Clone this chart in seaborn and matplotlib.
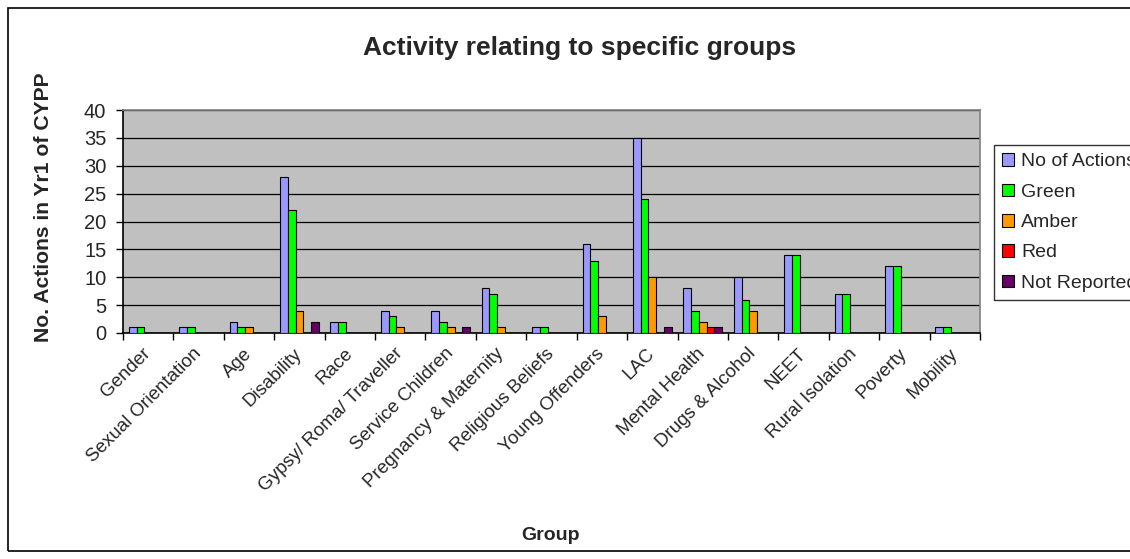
import matplotlib
matplotlib.use("Agg")
import matplotlib.pyplot as plt
import matplotlib.transforms as mtransforms
import seaborn as sns
import pandas as pd
from matplotlib.patches import Rectangle

groups = ["Gender", "Sexual Orientation", "Age", "Disability", "Race",
          "Gypsy/ Roma/ Traveller", "Service Children", "Pregnancy & Maternity",
          "Religious Beliefs", "Young Offenders", "LAC", "Mental Health",
          "Drugs & Alcohol", "NEET", "Rural Isolation", "Poverty", "Mobility"]
no_of_actions = [1, 1, 2, 28, 2, 4, 4, 8, 1, 16, 35, 8, 10, 14, 7, 12, 1]
green = [1, 1, 1, 22, 2, 3, 2, 7, 1, 13, 24, 4, 6, 14, 7, 12, 1]
amber = [0, 0, 1, 4, 0, 1, 1, 1, 0, 3, 10, 2, 4, 0, 0, 0, 0]
red = [0, 0, 0, 0, 0, 0, 0, 0, 0, 0, 0, 1, 0, 0, 0, 0, 0]
not_reported = [0, 0, 0, 2, 0, 0, 1, 0, 0, 0, 1, 1, 0, 0, 0, 0, 0]
series_names = ["No of Actions", "Green", "Amber", "Red", "Not Reported"]
series_colors = ["#9999FF", "#00FF00", "#FF9900", "#FF0000", "#660066"]
y_ticks = [0, 5, 10, 15, 20, 25, 30, 35, 40]

rows = []
for name, vals in zip(series_names, [no_of_actions, green, amber, red, not_reported]):
    for g, v in zip(groups, vals):
        rows.append({"Group": g, "Series": name, "Value": v})
df = pd.DataFrame(rows)

sns.set_style("white")
plt.rcParams["font.family"] = ["Liberation Sans", "DejaVu Sans"]

W, H = 1130, 559
fig = plt.figure(figsize=(W / 100, H / 100), dpi=100)
ax = fig.add_axes([123 / W, 1 - 333 / H, 857 / W, 223 / H])

sns.barplot(data=df, x="Group", y="Value", hue="Series", order=groups,
            hue_order=series_names, palette=series_colors, width=0.77,
            gap=0, edgecolor="black", linewidth=0.8, saturation=1,
            errorbar=None, ax=ax, legend=False, zorder=3)

ax.set_facecolor("#C0C0C0")
ax.set_xlim(-0.5, len(groups) - 0.5)
ax.set_ylim(0, 40)
ax.set_yticks(y_ticks)
ax.set_yticklabels([str(t) for t in y_ticks], fontsize=14.5)
ax.yaxis.grid(True, color="black", linewidth=0.9, zorder=1)
ax.set_axisbelow(True)

ax.set_xticks(range(len(groups)))
ax.set_xticklabels(groups, rotation=45, ha="right", va="center",
                   rotation_mode="anchor", fontsize=13.5)
shift = mtransforms.ScaledTranslation(-6 / 100, 0, fig.dpi_scale_trans)
for lbl in ax.get_xticklabels():
    lbl.set_transform(lbl.get_transform() + shift)
ax.set_xticks([i - 0.5 for i in range(len(groups) + 1)], minor=True)
ax.tick_params(axis="x", which="major", length=0, pad=13)
ax.tick_params(axis="x", which="minor", length=5, width=1, color="black",
               direction="out", bottom=True)
ax.tick_params(axis="y", length=5, width=1, color="black", direction="out",
               left=True, pad=7)

for side in ["top", "right"]:
    ax.spines[side].set_color("#808080")
    ax.spines[side].set_linewidth(1.2)
for side in ["left", "bottom"]:
    ax.spines[side].set_color("black")
    ax.spines[side].set_linewidth(1.2)

ax.set_xlabel("")
ax.set_ylabel("")
fig.text(550 / W, 1 - 535 / H, "Group", ha="center", va="center",
         fontsize=14, fontweight="bold")
fig.text(44 / W, 1 - 207 / H, "No. Actions in Yr1 of CYPP", ha="center",
         va="center", rotation=90, fontsize=15.2, fontweight="bold")
fig.text(580 / W, 1 - 48 / H, "Activity relating to specific groups",
         ha="center", va="center", fontsize=19, fontweight="bold")

# legend
handles = [Rectangle((0, 0), 1, 1, facecolor=c, edgecolor="black", linewidth=0.8)
           for c in series_colors]
leg = fig.legend(handles, series_names, loc="upper left",
                 bbox_to_anchor=(994 / W, 1 - 145 / H), frameon=True,
                 fontsize=14, handlelength=0.62, handleheight=0.62,
                 handletextpad=0.35, labelspacing=0.68, borderpad=0.42,
                 fancybox=False, borderaxespad=0)
leg.get_frame().set_edgecolor("black")
leg.get_frame().set_linewidth(1)

# chart border
fig.patches.append(Rectangle((8 / W, 8 / H), 1.2, 1 - 16 / H,
                             transform=fig.transFigure, fill=False,
                             edgecolor="black", linewidth=1.2))

fig.savefig("out.png", dpi=100, facecolor="white")
